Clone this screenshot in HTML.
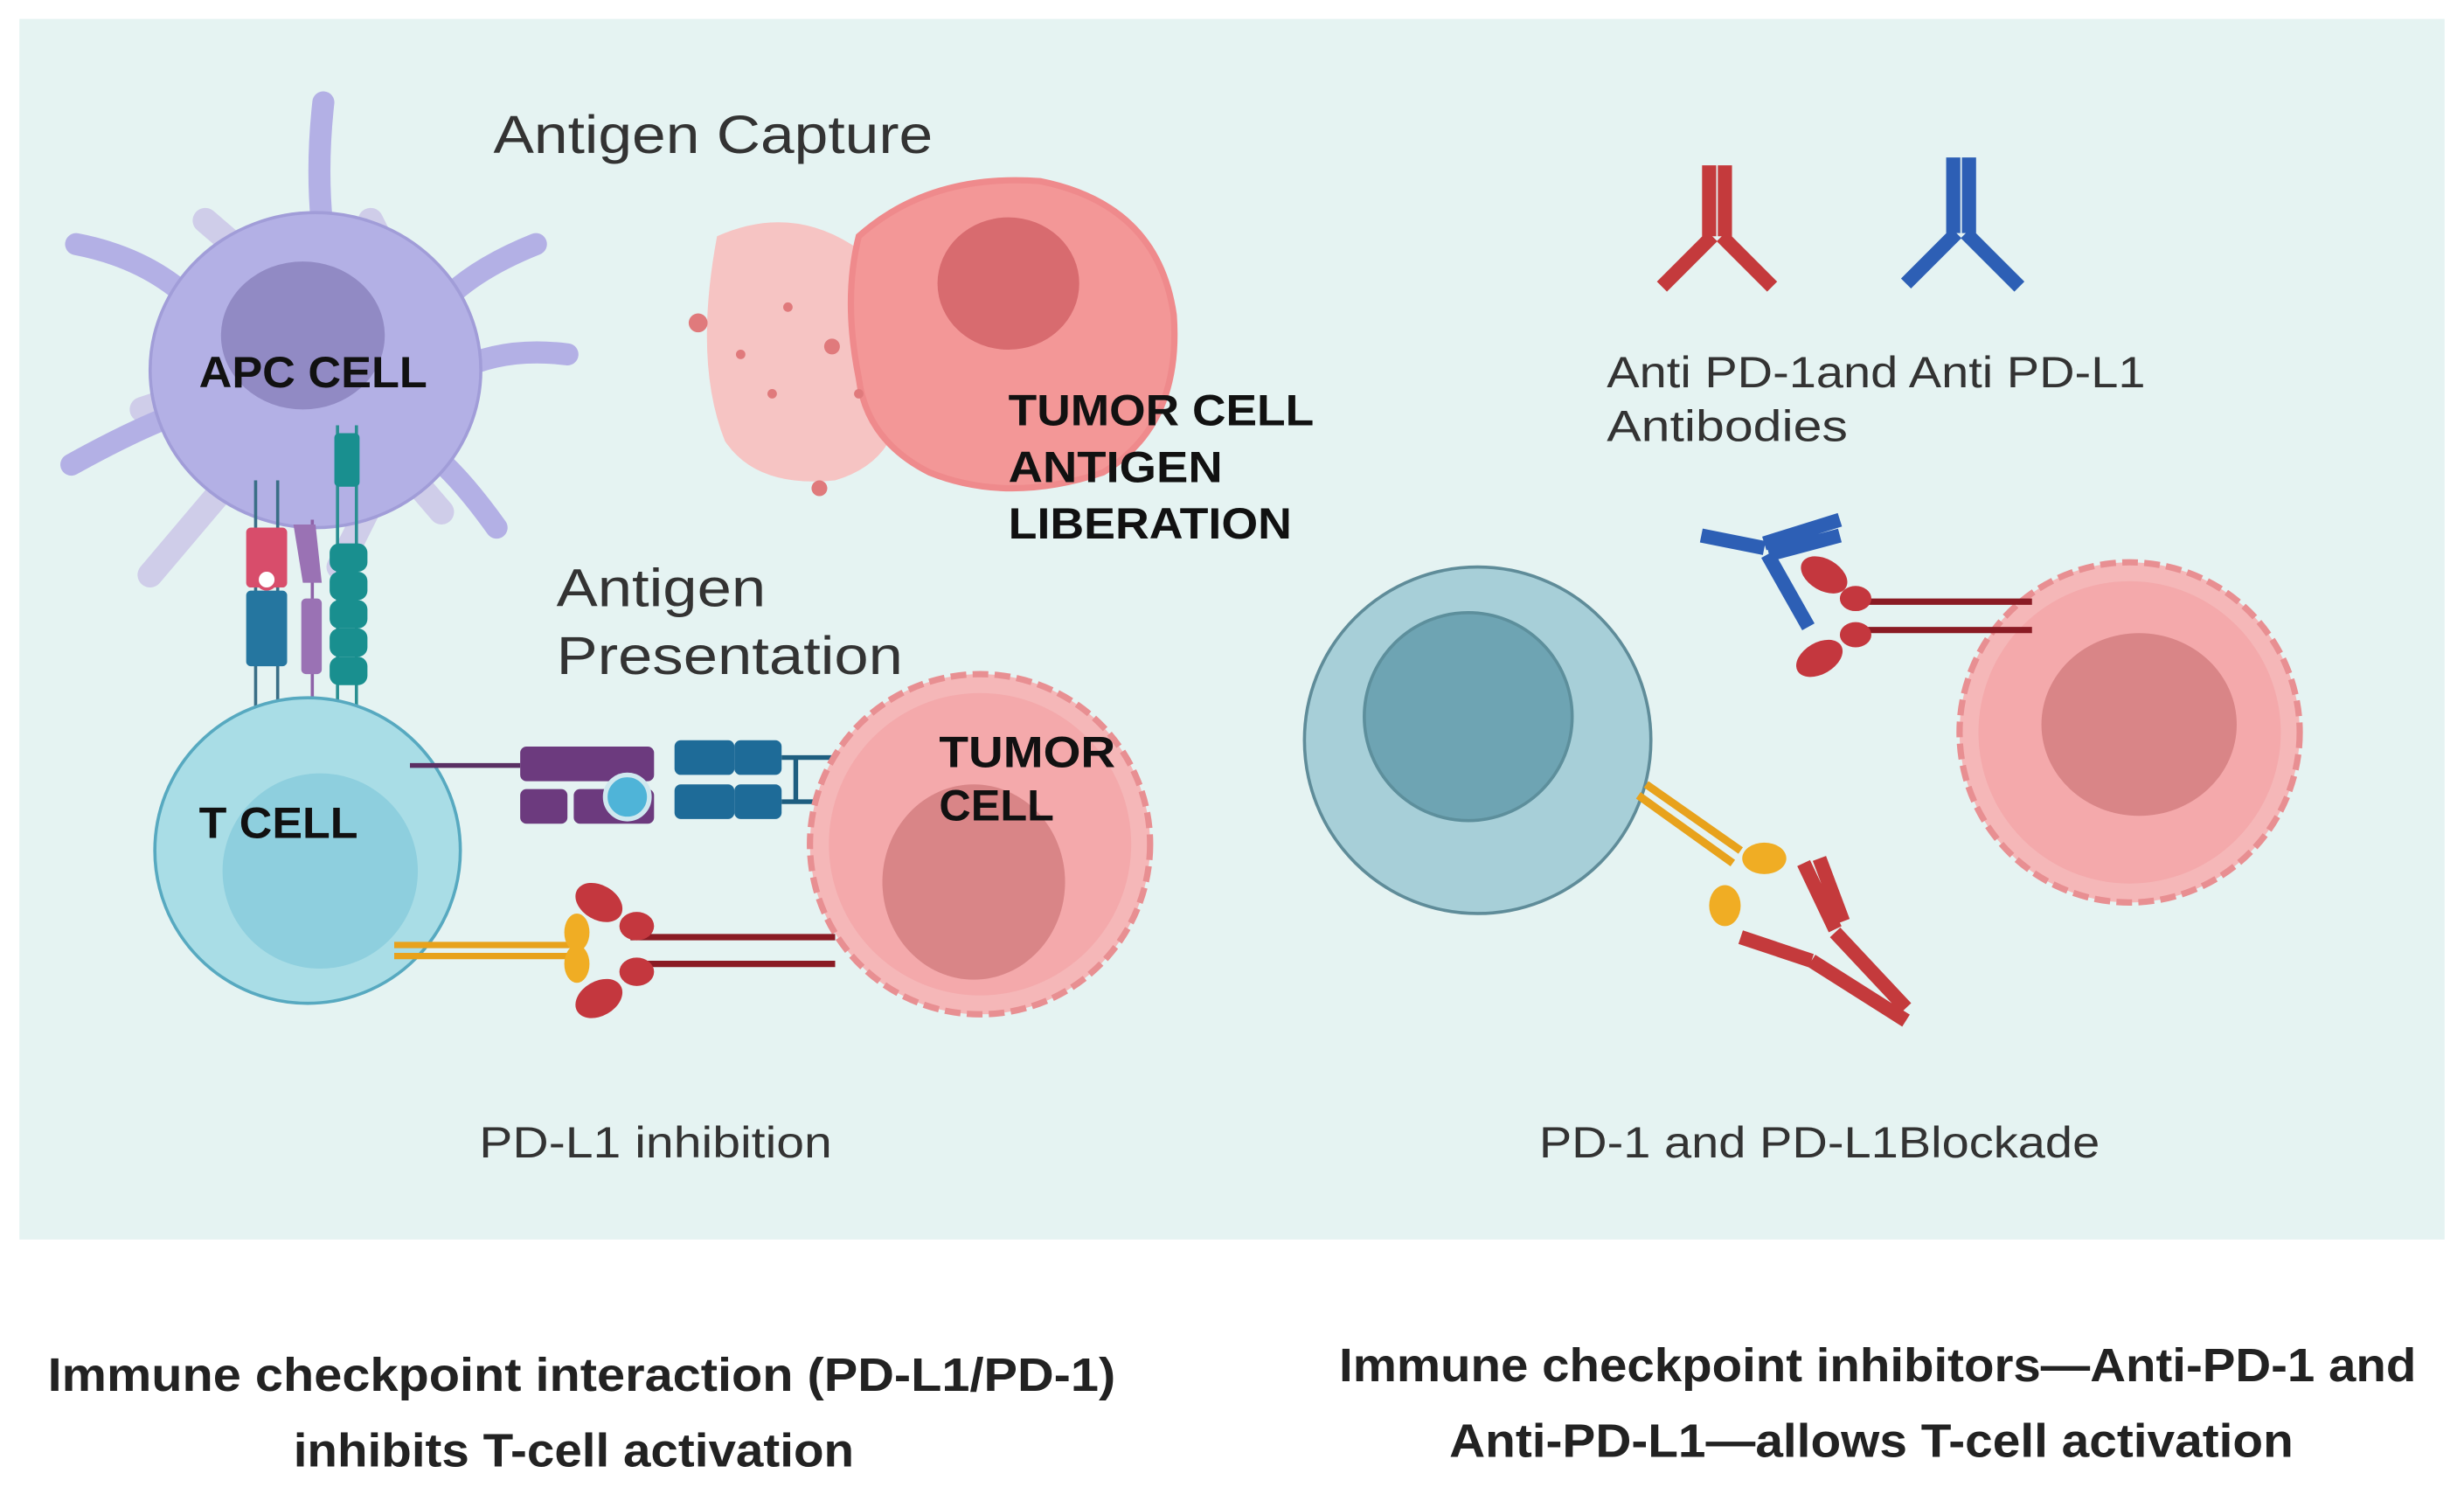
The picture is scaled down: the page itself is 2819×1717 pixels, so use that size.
<!DOCTYPE html>
<html><head><meta charset="utf-8"><style>
html,body{margin:0;padding:0;background:#fff}
svg{display:block}
text{font-family:"Liberation Sans",sans-serif}
</style></head><body>
<svg width="2819" height="1717" viewBox="0 0 1564 953" xmlns="http://www.w3.org/2000/svg">
<rect width="1564" height="953" fill="#fff"/>
<rect x="12" y="12" width="1540" height="775" fill="#e5f3f2"/>

<!-- APC cell -->
<g stroke-linecap="round" fill="none">
 <g stroke="#cfcde9" stroke-width="16">
  <path d="M130 140 L165 170"/><path d="M235 140 L250 170"/><path d="M90 260 L120 250"/><path d="M95 365 L150 300"/><path d="M215 360 L240 310"/><path d="M280 325 L250 290"/>
 </g>
 <g stroke="#b3b0e5" stroke-width="14">
  <path d="M205 65 Q200 110 205 150"/>
  <path d="M48 155 Q100 165 130 200"/>
  <path d="M340 155 Q290 175 270 205"/>
  <path d="M360 225 Q320 220 290 235"/>
  <path d="M45 295 Q90 270 120 260"/>
  <path d="M315 335 Q290 300 270 285"/>
 </g>
</g>
<ellipse cx="200" cy="235" rx="105" ry="100" fill="#b3b0e5" stroke="#a19dd8" stroke-width="2"/>
<ellipse cx="192" cy="213" rx="52" ry="47" fill="#918ac4"/>
<text x="126" y="246" font-size="28" font-weight="bold" fill="#111" textLength="145" lengthAdjust="spacingAndGlyphs">APC CELL</text>

<!-- receptors -->
<g stroke-width="2">
 <line x1="162" y1="305" x2="162" y2="460" stroke="#3a6e86"/><line x1="176" y1="305" x2="176" y2="460" stroke="#3a6e86"/>
 <line x1="198" y1="330" x2="198" y2="460" stroke="#8e62a8"/>
 <line x1="214" y1="270" x2="214" y2="465" stroke="#2a8f91"/><line x1="226" y1="270" x2="226" y2="465" stroke="#2a8f91"/>
</g>
<rect x="156" y="335" width="26" height="38" rx="3" fill="#d84d6b"/>
<circle cx="169" cy="368" r="6" fill="#fff" stroke="#d84d6b" stroke-width="2"/>
<rect x="156" y="375" width="26" height="48" rx="3" fill="#2576a0"/>
<path d="M186 333 L200 333 L204 370 L192 370 Z" fill="#9a72b4"/>
<rect x="191" y="380" width="13" height="48" rx="3" fill="#9a72b4"/>
<rect x="212" y="275" width="16" height="34" rx="3" fill="#198f8f"/>
<g fill="#198f8f"><rect x="209" y="345" width="24" height="18" rx="6"/><rect x="209" y="363" width="24" height="18" rx="6"/><rect x="209" y="381" width="24" height="18" rx="6"/><rect x="209" y="399" width="24" height="18" rx="6"/><rect x="209" y="417" width="24" height="18" rx="6"/></g>

<!-- T cell -->
<circle cx="195" cy="540" r="97" fill="#a9dde6" stroke="#57a9c0" stroke-width="2"/>
<circle cx="203" cy="553" r="62" fill="#8ecfde"/>
<text x="126" y="532" font-size="28" font-weight="bold" fill="#111" textLength="101" lengthAdjust="spacingAndGlyphs">T CELL</text>

<!-- MHC-TCR -->
<line x1="260" y1="486" x2="330" y2="486" stroke="#5a2f63" stroke-width="3"/>
<rect x="330" y="474" width="85" height="22" rx="4" fill="#6c3a7e"/>
<rect x="330" y="501" width="30" height="22" rx="4" fill="#6c3a7e"/>
<rect x="364" y="501" width="51" height="22" rx="4" fill="#6c3a7e"/>
<circle cx="398" cy="506" r="14" fill="#4fb4d8" stroke="#cfe8ef" stroke-width="3"/>
<g fill="#1e6b98"><rect x="428" y="470" width="38" height="22" rx="4"/><rect x="428" y="498" width="38" height="22" rx="4"/><rect x="466" y="470" width="30" height="22" rx="4"/><rect x="466" y="498" width="30" height="22" rx="4"/></g>
<g stroke="#1e5e80" stroke-width="3" fill="none"><path d="M496 481 H530 M496 509 H530 M505 481 V509"/></g>

<!-- tumor cell left -->
<circle cx="622" cy="536" r="108" fill="#f5b7b8" stroke="#e88f92" stroke-width="4" stroke-dasharray="10 4"/>
<circle cx="622" cy="536" r="96" fill="#f4a9ab"/>
<ellipse cx="618" cy="560" rx="58" ry="62" fill="#d98587"/>
<text x="596" y="487" font-size="28" font-weight="bold" fill="#111" textLength="112" lengthAdjust="spacingAndGlyphs">TUMOR</text>
<text x="596" y="521" font-size="28" font-weight="bold" fill="#111" textLength="73" lengthAdjust="spacingAndGlyphs">CELL</text>

<!-- PD-1 / PD-L1 left -->
<g stroke="#e8a21c" stroke-width="4"><line x1="250" y1="600" x2="365" y2="600"/><line x1="250" y1="607" x2="365" y2="607"/></g>
<ellipse cx="366" cy="592" rx="8" ry="12" fill="#f0ad24"/><ellipse cx="366" cy="612" rx="8" ry="12" fill="#f0ad24"/>
<g stroke="#8a1b24" stroke-width="4"><line x1="400" y1="595" x2="530" y2="595"/><line x1="400" y1="612" x2="530" y2="612"/></g>
<g fill="#c4373e"><ellipse cx="380" cy="573" rx="16" ry="11" transform="rotate(30 380 573)"/><ellipse cx="404" cy="588" rx="11" ry="9"/><ellipse cx="380" cy="634" rx="16" ry="11" transform="rotate(-30 380 634)"/><ellipse cx="404" cy="617" rx="11" ry="9"/></g>

<!-- tumor antigen liberation -->
<path d="M455 150 Q500 130 540 155 Q575 175 570 230 Q580 290 530 305 Q480 310 460 280 Q440 230 455 150 Z" fill="#f6c4c3"/>
<path d="M545 150 Q590 110 660 115 Q735 130 745 200 Q750 270 700 300 Q640 320 590 300 Q550 280 545 240 Q535 190 545 150 Z" fill="#f39797" stroke="#ef8a8c" stroke-width="4"/>
<ellipse cx="640" cy="180" rx="45" ry="42" fill="#d86b6f"/>
<g fill="#e07a7c"><circle cx="528" cy="220" r="5"/><circle cx="500" cy="195" r="3"/><circle cx="490" cy="250" r="3"/><circle cx="520" cy="310" r="5"/><circle cx="443" cy="205" r="6"/><circle cx="545" cy="250" r="3"/><circle cx="470" cy="225" r="3"/></g>
<text x="640" y="270" font-size="28" font-weight="bold" fill="#111" textLength="194" lengthAdjust="spacingAndGlyphs">TUMOR CELL</text>
<text x="640" y="306" font-size="28" font-weight="bold" fill="#111" textLength="136" lengthAdjust="spacingAndGlyphs">ANTIGEN</text>
<text x="640" y="342" font-size="28" font-weight="bold" fill="#111" textLength="180" lengthAdjust="spacingAndGlyphs">LIBERATION</text>

<text x="313" y="97" font-size="34" fill="#333" textLength="279" lengthAdjust="spacingAndGlyphs">Antigen Capture</text>
<text x="353" y="385" font-size="34" fill="#333" textLength="133" lengthAdjust="spacingAndGlyphs">Antigen</text>
<text x="353" y="428" font-size="34" fill="#333" textLength="220" lengthAdjust="spacingAndGlyphs">Presentation</text>
<text x="304" y="735" font-size="28" fill="#333" textLength="224" lengthAdjust="spacingAndGlyphs">PD-L1 inhibition</text>

<!-- antibodies top -->
<g stroke-width="9" stroke-linecap="butt" fill="none">
 <g stroke="#c43a3c"><path d="M1085 105 V150 M1095 105 V150 M1087 150 L1055 182 M1093 150 L1125 182"/></g>
 <g stroke="#2d5fb5"><path d="M1240 100 V148 M1250 100 V148 M1242 148 L1210 180 M1248 148 L1282 182"/></g>
</g>
<text x="1020" y="246" font-size="28" fill="#333" textLength="342" lengthAdjust="spacingAndGlyphs">Anti PD-1and Anti PD-L1</text>
<text x="1020" y="280" font-size="28" fill="#333" textLength="153" lengthAdjust="spacingAndGlyphs">Antibodies</text>

<!-- right T cell -->
<circle cx="938" cy="470" r="110" fill="#a7cfd8" stroke="#5f8c99" stroke-width="2"/>
<circle cx="932" cy="455" r="66" fill="#6ea4b3" stroke="#5d8f9c" stroke-width="2"/>

<!-- right tumor -->
<circle cx="1352" cy="465" r="108" fill="#f5b7b8" stroke="#e88f92" stroke-width="4" stroke-dasharray="10 4"/>
<circle cx="1352" cy="465" r="96" fill="#f4a9ab"/>
<ellipse cx="1358" cy="460" rx="62" ry="58" fill="#d98587"/>

<!-- PD-L1 right with antibody -->
<g stroke="#8a1b24" stroke-width="4"><line x1="1180" y1="382" x2="1290" y2="382"/><line x1="1180" y1="400" x2="1290" y2="400"/></g>
<g fill="#c4373e"><ellipse cx="1158" cy="365" rx="16" ry="10" transform="rotate(30 1158 365)"/><ellipse cx="1178" cy="380" rx="10" ry="8"/><ellipse cx="1155" cy="418" rx="16" ry="10" transform="rotate(-30 1155 418)"/><ellipse cx="1178" cy="403" rx="10" ry="8"/></g>
<g stroke="#2d5fb5" stroke-width="9" fill="none"><path d="M1168 330 L1120 345 M1168 340 L1123 352 M1120 348 L1080 340 M1122 352 L1148 398"/></g>

<!-- PD-1 right with antibody -->
<g stroke="#e8a21c" stroke-width="5" fill="none"><path d="M1040 505 L1100 548 M1045 498 L1105 540"/></g>
<ellipse cx="1120" cy="545" rx="14" ry="10" fill="#f0ad24"/><ellipse cx="1095" cy="575" rx="10" ry="13" fill="#f0ad24"/>
<g stroke="#c43a3c" stroke-width="9" fill="none"><path d="M1145 548 L1165 590 M1155 545 L1170 585 M1105 595 L1150 610 M1150 610 L1210 648 M1165 592 L1210 640"/></g>

<text x="977" y="735" font-size="28" fill="#333" textLength="356" lengthAdjust="spacingAndGlyphs">PD-1 and PD-L1Blockade</text>

<text x="30" y="883" font-size="30" font-weight="bold" fill="#222" textLength="678" lengthAdjust="spacingAndGlyphs">Immune checkpoint interaction (PD-L1/PD-1)</text>
<text x="186" y="931" font-size="30" font-weight="bold" fill="#222" textLength="356" lengthAdjust="spacingAndGlyphs">inhibits T-cell activation</text>
<text x="850" y="877" font-size="30" font-weight="bold" fill="#222" textLength="684" lengthAdjust="spacingAndGlyphs">Immune checkpoint inhibitors—Anti-PD-1 and</text>
<text x="920" y="925" font-size="30" font-weight="bold" fill="#222" textLength="536" lengthAdjust="spacingAndGlyphs">Anti-PD-L1—allows T-cell activation</text>
</svg>
</body></html>
